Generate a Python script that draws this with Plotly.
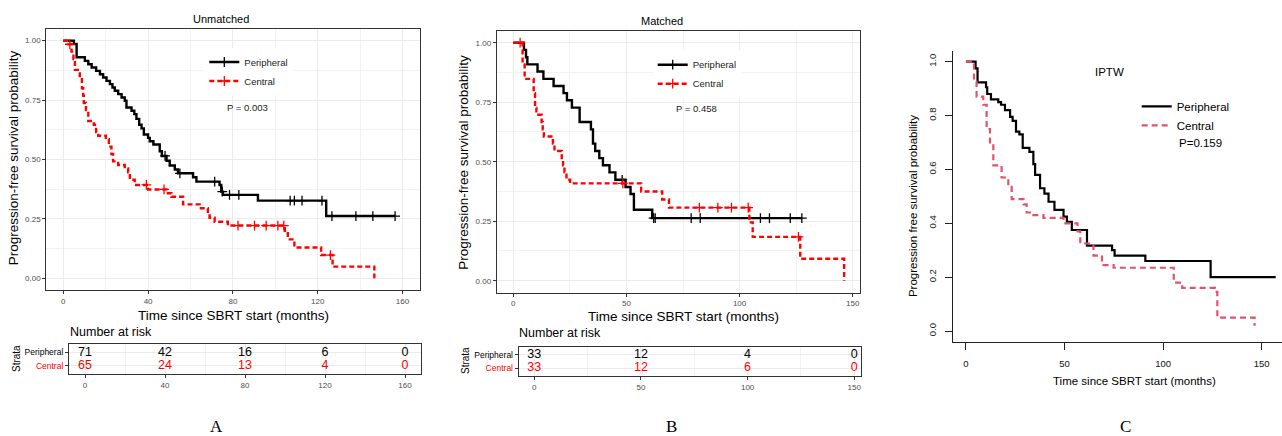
import bisect
import plotly.graph_objects as go

W, H = 1282, 436
SANS = "Liberation Sans, Arial, sans-serif"
SERIF = "Liberation Serif, Times New Roman, serif"

# ---------------- data ----------------
# Panel A (Unmatched)
A_per_t = [5.0, 6.3, 10.2, 11.8, 13.4, 15.5, 17.3, 18.8, 20.4, 22.0, 23.2, 24.3, 25.9, 27.5, 29.0, 29.8,
           32.2, 33.5, 34.5, 35.8, 36.9, 38.0, 40.0, 40.8, 42.5, 45.5, 46.5, 48.7, 50.2, 52.6, 54.1, 61.2,
           62.8, 73.7, 74.5, 75.3, 91.8, 124.0]
A_per_s = [0.986, 0.930, 0.915, 0.901, 0.887, 0.873, 0.859, 0.845, 0.831, 0.817, 0.803, 0.789, 0.775, 0.761,
           0.747, 0.719, 0.705, 0.691, 0.671, 0.646, 0.631, 0.605, 0.591, 0.577, 0.563, 0.535, 0.515, 0.495,
           0.475, 0.458, 0.442, 0.425, 0.407, 0.393, 0.365, 0.351, 0.327, 0.262]
A_per_cens = [48.0, 55.0, 71.4, 75.0, 78.4, 82.8, 107.0, 109.0, 112.6, 122.0, 126.7, 138.0, 146.0, 156.5]

A_cen_t = [2.4, 3.9, 4.8, 5.5, 7.8, 8.8, 9.4, 9.7, 10.7, 11.8, 14.4, 15.5, 16.5, 20.1, 21.5, 22.7, 23.5,
           25.9, 29.0, 30.6, 31.4, 33.7, 40.0, 48.6, 51.0, 56.5, 64.3, 68.2, 69.0, 71.4, 77.6, 104.5, 105.9,
           109.0, 121.6, 127.0, 146.7]
A_cen_s = [0.985, 0.954, 0.923, 0.877, 0.846, 0.800, 0.769, 0.738, 0.708, 0.662, 0.646, 0.615, 0.600, 0.585,
           0.554, 0.523, 0.492, 0.477, 0.462, 0.446, 0.415, 0.393, 0.374, 0.358, 0.343, 0.311, 0.295, 0.272,
           0.255, 0.238, 0.222, 0.200, 0.164, 0.130, 0.098, 0.049, 0.0]
A_cen_cens = [3.1, 39.2, 47.5, 82.4, 90.2, 95.7, 101.2, 104.0, 126.0]

A_risk_times = [0, 40, 80, 120, 160]
A_risk_per = [71, 42, 16, 6, 0]
A_risk_cen = [65, 24, 13, 4, 0]

# Panel B (Matched)
B_per_t = [4.7, 5.6, 6.2, 10.7, 13.3, 17.8, 22.2, 23.7, 25.9, 29.3, 34.3, 35.2, 36.2, 38.0, 39.6, 42.5,
           45.1, 49.6, 51.8, 53.3, 61.4]
B_per_s = [0.970, 0.939, 0.909, 0.879, 0.848, 0.818, 0.788, 0.758, 0.727, 0.667, 0.636, 0.576, 0.545,
           0.515, 0.485, 0.455, 0.424, 0.394, 0.364, 0.298, 0.263]
B_per_cens = [48.1, 62.0, 62.7, 78.6, 82.6, 109.2, 113.2, 122.4, 127.5]

B_cen_t = [4.1, 5.0, 9.0, 9.6, 10.2, 12.5, 13.0, 13.5, 17.5, 18.2, 21.4, 22.0, 22.6, 23.5, 25.1, 56.5,
           65.8, 68.8, 104.3, 105.8, 126.8, 146.2]
B_cen_s = [0.909, 0.848, 0.788, 0.727, 0.697, 0.667, 0.636, 0.606, 0.576, 0.545, 0.515, 0.485, 0.455,
           0.424, 0.409, 0.375, 0.341, 0.307, 0.245, 0.184, 0.092, 0.0]
B_cen_cens = [3.0, 48.4, 82.2, 90.4, 96.4, 103.8, 126.0]

B_risk_times = [0, 50, 100, 150]
B_risk_per = [33, 12, 4, 0]
B_risk_cen = [33, 12, 6, 0]

# Panel C (IPTW)
C_per_t = [4.9, 5.9, 10.2, 10.8, 12.7, 16.4, 17.8, 19.8, 22.4, 23.7, 25.4, 27.1, 28.8, 32.2, 34.2, 35.1,
           37.6, 39.8, 41.9, 44.9, 49.5, 51.2, 53.7, 61.4, 74.1, 75.4, 91.0, 124.1]
C_per_s = [0.975, 0.923, 0.905, 0.880, 0.860, 0.850, 0.840, 0.820, 0.795, 0.780, 0.740, 0.730, 0.680,
           0.665, 0.620, 0.580, 0.530, 0.510, 0.480, 0.450, 0.425, 0.405, 0.375, 0.317, 0.300, 0.280,
           0.260, 0.200]
C_per_end = 157.1

C_cen_t = [4.1, 5.4, 8.8, 10.5, 12.2, 13.9, 18.1, 21.5, 23.2, 29.2, 30.8, 34.2, 39.3, 49.5, 56.6, 58.0,
           64.7, 69.0, 74.9, 105.4, 109.7, 126.3, 127.5, 146.4]
C_cen_s = [0.925, 0.870, 0.840, 0.750, 0.700, 0.615, 0.570, 0.535, 0.490, 0.470, 0.440, 0.430, 0.420,
           0.400, 0.370, 0.325, 0.280, 0.245, 0.235, 0.180, 0.160, 0.145, 0.050, 0.020]
C_cen_end = 146.4

RED = "#FF0000"
PINK = "#DF536B"


# ---------------- helpers ----------------
def fx(x):
    return x / W


def fy(y):
    return 1 - y / H


def step_xy(times, surv, end):
    xs = [0.0] + list(times)
    ys = [1.0] + list(surv)
    if end > times[-1]:
        xs.append(end)
        ys.append(surv[-1])
    return xs, ys


def surv_at(times, surv, t):
    i = bisect.bisect_right(times, t)
    return 1.0 if i == 0 else surv[i - 1]


fig = go.Figure()

MK = dict(symbol="cross-thin", size=7, line=dict(width=1.3))
LW_GG = 2.4


def add_km(times, surv, cens, end, color, dash, xa, ya, width=LW_GG):
    xs, ys = step_xy(times, surv, end)
    fig.add_trace(go.Scatter(x=xs, y=ys, mode="lines", line=dict(color=color, width=width, dash=dash, shape="hv"),
                             xaxis=xa, yaxis=ya, showlegend=False, hoverinfo="skip"))
    if cens:
        fig.add_trace(go.Scatter(x=cens, y=[surv_at(times, surv, c) for c in cens], mode="markers",
                                 marker=dict(symbol=MK["symbol"], size=MK["size"],
                                             line=dict(width=MK["line"]["width"], color=color)),
                                 xaxis=xa, yaxis=ya, showlegend=False, hoverinfo="skip"))


def add_legend_item(name, color, dash, xa, ya, legend, markers=True, width=LW_GG):
    fig.add_trace(go.Scatter(x=[None], y=[None], name=name, mode="lines+markers" if markers else "lines",
                             line=dict(color=color, width=width, dash=dash),
                             marker=dict(symbol=MK["symbol"], size=MK["size"],
                                         line=dict(width=MK["line"]["width"], color=color)),
                             xaxis=xa, yaxis=ya, legend=legend, showlegend=True))


def add_risk(times, per, cen, xa, ya):
    xs = list(times) + list(times)
    ys = [2] * len(per) + [1] * len(cen)
    txt = [str(v) for v in per] + [str(v) for v in cen]
    cols = ["#000000"] * len(per) + [RED] * len(cen)
    fig.add_trace(go.Scatter(x=xs, y=ys, text=txt, mode="text", textposition="middle center",
                             textfont=dict(size=12.5, color=cols, family=SANS),
                             xaxis=xa, yaxis=ya, showlegend=False, hoverinfo="skip", cliponaxis=False))


# Panel A
add_km(A_per_t, A_per_s, A_per_cens, max(A_per_t[-1], max(A_per_cens)), "#000000", "solid", "x", "y")
add_km(A_cen_t, A_cen_s, A_cen_cens, max(A_cen_t[-1], max(A_cen_cens)), RED, "5px,3px", "x", "y")
add_legend_item("Peripheral", "#000000", "solid", "x", "y", "legend")
add_legend_item("Central", RED, "5px,3px", "x", "y", "legend")
add_risk(A_risk_times, A_risk_per, A_risk_cen, "x2", "y2")

# Panel B
add_km(B_per_t, B_per_s, B_per_cens, max(B_per_t[-1], max(B_per_cens)), "#000000", "solid", "x3", "y3")
add_km(B_cen_t, B_cen_s, B_cen_cens, max(B_cen_t[-1], max(B_cen_cens)), RED, "5px,3px", "x3", "y3")
add_legend_item("Peripheral", "#000000", "solid", "x3", "y3", "legend2")
add_legend_item("Central", RED, "5px,3px", "x3", "y3", "legend2")
add_risk(B_risk_times, B_risk_per, B_risk_cen, "x4", "y4")

# Panel C
add_km(C_per_t, C_per_s, [], C_per_end, "#000000", "solid", "x5", "y5", width=2.2)
add_km(C_cen_t, C_cen_s, [], C_cen_end, PINK, "6px,4px", "x5", "y5", width=2.2)
add_legend_item("Peripheral", "#000000", "solid", "x5", "y5", "legend3", markers=False, width=2.2)
add_legend_item("Central", PINK, "6px,4px", "x5", "y5", "legend3", markers=False, width=2.2)

# ---------------- axes ----------------
GRID = "#EBEBEB"
BORDER = "#333333"
TICKF = dict(size=8, color="#4D4D4D", family=SANS)


def gg_x(domain, rng, dtick, anchor):
    return dict(domain=domain, range=rng, anchor=anchor, tickmode="linear", tick0=0, dtick=dtick,
                ticks="outside", ticklen=3, tickcolor=BORDER, tickwidth=1, showline=True, mirror=True,
                linecolor=BORDER, linewidth=1, showgrid=True, gridcolor=GRID, gridwidth=1, zeroline=False,
                tickfont=TICKF, fixedrange=True,
                minor=dict(dtick=dtick / 2, tick0=0, showgrid=True, gridcolor="#F2F2F2", gridwidth=0.6))


def gg_ysurv(domain, anchor):
    return dict(domain=domain, range=[-0.05, 1.05], anchor=anchor, tickmode="linear", tick0=0,
                dtick=0.25, tickformat=".2f", ticks="outside", ticklen=3, tickcolor=BORDER, showline=True,
                mirror=True, linecolor=BORDER, linewidth=1, showgrid=True, gridcolor=GRID, zeroline=False,
                tickfont=TICKF, fixedrange=True,
                minor=dict(dtick=0.125, tick0=0, showgrid=True, gridcolor="#F2F2F2", gridwidth=0.6))


def gg_yrisk(domain, anchor):
    return dict(domain=domain, range=[0.4, 2.6], anchor=anchor, tickvals=[1, 2],
                ticktext=["<span style='color:#FF0000'>Central</span>", "Peripheral"], ticks="outside",
                ticklen=3, tickcolor=BORDER, showline=True, mirror=True, linecolor=BORDER, linewidth=1,
                showgrid=True, gridcolor=GRID, zeroline=False, fixedrange=True,
                tickfont=dict(size=8.5, color="#000000", family=SANS))


layout_axes = dict(
    xaxis=gg_x([fx(46.3), fx(419.5)], [-8, 168], 40, "y"),
    yaxis=gg_ysurv([fy(290.2), fy(28.8)], "x"),
    xaxis2=gg_x([fx(69), fx(421)], [-8, 168], 40, "y2"),
    yaxis2=gg_yrisk([fy(374), fy(344.3)], "x2"),
    xaxis3=gg_x([fx(496.8), fx(860.2)], [-7.3, 153.3], 50, "y3"),
    yaxis3=gg_ysurv([fy(292.6), fy(30.8)], "x3"),
    xaxis4=gg_x([fx(518.7), fx(861.3)], [-7.3, 153.3], 50, "y4"),
    yaxis4=gg_yrisk([fy(376), fy(346.7)], "x4"),
    xaxis5=dict(domain=[fx(953.3), 1.0], range=[-6.4, 160.3], anchor="y5", tickvals=[0, 50, 100, 150],
                ticks="outside", ticklen=7, tickcolor="#222222", showline=True, mirror=False,
                linecolor="#222222", linewidth=1, showgrid=False, zeroline=False, ticklabelstandoff=6,
                fixedrange=True, tickfont=dict(size=9.5, color="#111111", family=SANS)),
    yaxis5=dict(domain=[fy(341.8), fy(50.9)], range=[-0.04, 1.04], anchor="x5",
                tickvals=[0, 0.2, 0.4, 0.6, 0.8, 1.0], tickformat=".1f", tickangle=-90, ticks="outside",
                ticklen=7, tickcolor="#222222", showline=True, mirror=False, linecolor="#222222", linewidth=1,
                showgrid=False, zeroline=False, ticklabelstandoff=6, fixedrange=True,
                tickfont=dict(size=9.5, color="#111111", family=SANS)),
)


def ann(text, x, y, size, xanchor="center", angle=0, family=SANS, color="#000000"):
    return dict(text=text, x=fx(x), y=fy(y), xref="paper", yref="paper", xanchor=xanchor, yanchor="middle",
                showarrow=False, textangle=angle, borderpad=0, font=dict(size=size, family=family, color=color))


annotations = [
    ann("Unmatched", 220.7, 19.3, 11),
    ann("Matched", 662, 21.3, 11),
    ann("Progression-free survival probability", 13, 158.3, 13.5, angle=-90),
    ann("Progression-free survival probability", 463.3, 162.5, 13.5, angle=-90),
    ann("Time since SBRT start (months)", 233, 315, 13.5),
    ann("Time since SBRT start (months)", 683, 316, 13.5),
    ann("Number at risk", 69, 331.7, 12.5, xanchor="left"),
    ann("Number at risk", 517.7, 333.3, 12.5, xanchor="left"),
    ann("Strata", 16, 359, 10, angle=-90),
    ann("Strata", 465, 361, 10, angle=-90),
    ann("P = 0.003", 225.7, 107, 9.5, xanchor="left", color="#222222"),
    ann("P = 0.458", 675, 108.7, 9.5, xanchor="left", color="#222222"),
    ann("IPTW", 1109, 72.3, 11.5),
    ann("P=0.159", 1177.7, 142.7, 11.5, xanchor="left"),
    ann("Time since SBRT start (months)", 1134, 381, 11.5),
    ann("Progression free survival probability", 912.3, 205.8, 11.5, angle=-90),
    ann("A", 216.7, 426.5, 17, family=SERIF),
    ann("B", 671.7, 426, 17, family=SERIF),
    ann("C", 1125.7, 426, 17, family=SERIF),
]

fig.update_layout(
    width=W, height=H, margin=dict(l=0, r=0, t=0, b=0), autosize=False,
    paper_bgcolor="white", plot_bgcolor="white",
    font=dict(family=SANS, color="#000000"),
    annotations=annotations,
    legend=dict(x=fx(204.3), y=fy(47.5), xanchor="left", yanchor="top", bgcolor="white", borderwidth=0,
                font=dict(size=9.5, family=SANS, color="#222222"), itemwidth=30, tracegroupgap=0),
    legend2=dict(x=fx(652.7), y=fy(50.2), xanchor="left", yanchor="top", bgcolor="white", borderwidth=0,
                 font=dict(size=9.5, family=SANS, color="#222222"), itemwidth=30, tracegroupgap=0),
    legend3=dict(x=fx(1136.7), y=fy(91.8), xanchor="left", yanchor="top", bgcolor="rgba(0,0,0,0)",
                 borderwidth=0, font=dict(size=11.5, family=SANS, color="#000000"), itemwidth=30,
                 tracegroupgap=0),
    **layout_axes,
)

fig.write_html("out.html", config={"displayModeBar": False},
               post_script="document.body.style.margin='0px';document.body.style.overflow='hidden';")
